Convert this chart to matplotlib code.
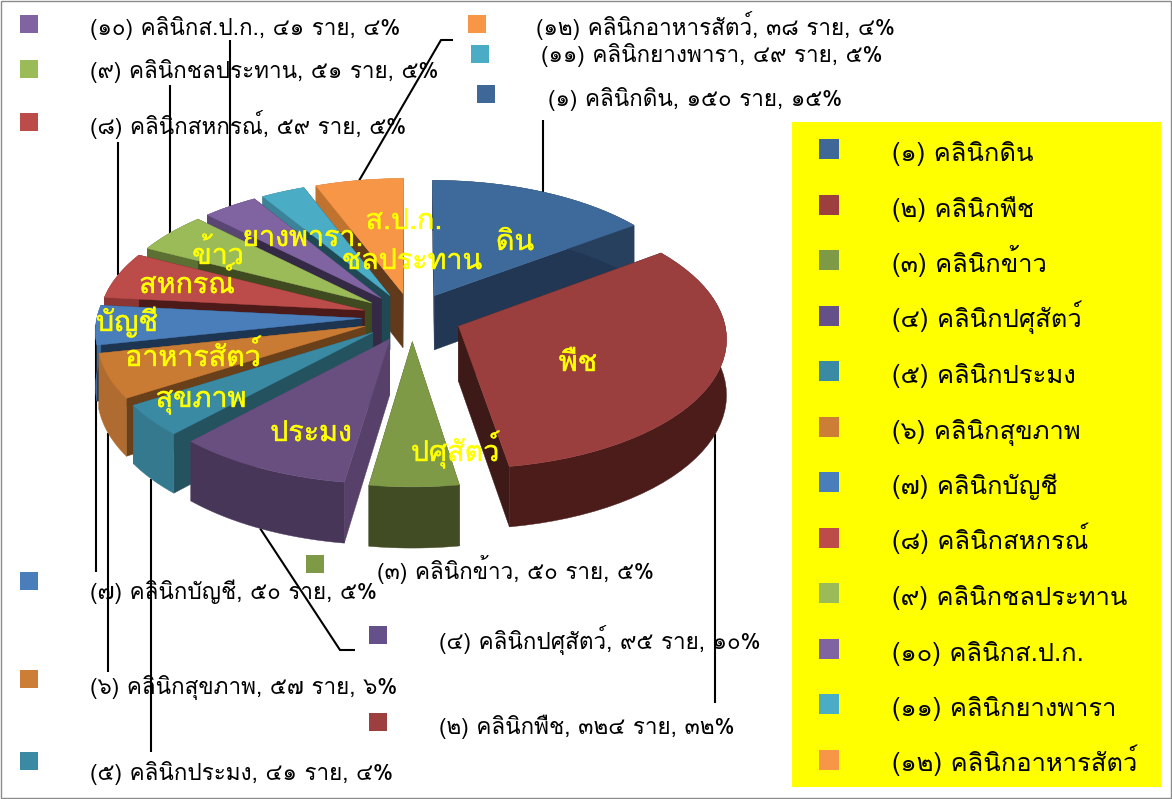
"""พายสามมิติแบบแยกชิ้น คลินิกเกษตร — วาดด้วย polygon จากค่าจริง"""
import numpy as np
import matplotlib

matplotlib.use("Agg")
import matplotlib.patheffects as pe
import matplotlib.pyplot as plt
from matplotlib.patches import Polygon, Rectangle

plt.rcParams["font.family"] = ["Loma", "DejaVu Sans"]

clinic_names = ["ดิน", "พืช", "ข้าว", "ปศุสัตว์", "ประมง", "สุขภาพ", "บัญชี",
                "สหกรณ์", "ชลประทาน", "ส.ป.ก.", "ยางพารา", "อาหารสัตว์"]
# ตัวเลขที่พิมพ์ในป้าย
counts = [150, 324, 50, 95, 41, 57, 50, 59, 51, 41, 49, 38]
percents = [15, 32, 5, 10, 4, 6, 5, 5, 5, 4, 5, 4]
# ขนาดชิ้นที่อ่านจากภาพ (บางชิ้นในภาพไม่ตรงกับป้าย เช่น 11, 12)
slice_values = [152, 331, 50, 99, 41, 57, 50, 59, 51, 38, 30, 60]
# ป้ายบนชิ้นพาย เรียงตามชิ้น
pie_labels = ["ดิน", "พืช", "ปศุสัตว์", "ประมง", "สุขภาพ", "อาหารสัตว์", "บัญชี",
              "สหกรณ์", "ข้าว", "ยางพารา.", "ชลประทาน", "ส.ป.ก."]

top_colors = ["#3d6a9b", "#9b3f3e", "#7f9a47", "#684f80", "#3a8aa3", "#c97b34",
              "#4a7ebb", "#bc4c4a", "#9bbb59", "#8064a2", "#4bacc6", "#f79646"]
outer_colors = ["#27405e", "#4b1c1a", "#414c24", "#483659", "#35798f", "#b06c30",
                "#3f6ca0", "#8c3533", "#5c7034", "#5a4672", "#3a8398", "#c0732f"]
radial_colors = ["#213754", "#3d1a17", "#404b22", "#574069", "#25525f", "#69401a",
                 "#1d3550", "#4d1a1a", "#3f4a20", "#352a45", "#1f4a55", "#603a1a"]
marker_colors = ["#3f6797", "#9c3f3e", "#7f9a47", "#66508a", "#3a8aa3", "#cc7d36",
                 "#4a7ebb", "#bc4c4a", "#9bbb59", "#8064a2", "#4bacc6", "#f79646"]

# ตำแหน่ง: มาร์กเกอร์ (x, y บน), ข้อความ (x, baseline), leader
callout_marker = [(477, 85), (369, 713), (306, 555), (369, 626), (20, 752), (20, 670),
                  (20, 572), (20, 113), (20, 60), (20, 15), (471, 45), (468, 15)]
callout_text = [(548, 106), (439, 734), (377, 579), (439, 649), (90, 780), (90, 694),
                (90, 599), (90, 134), (90, 78), (90, 35), (541, 62), (536, 35)]
pie_label_xy = [(515, 250), (578, 371), (455, 461), (311, 441), (201, 407), (193, 366),
                (127, 331), (187, 293), (218, 264), (303, 246), (412, 269), (404, 229)]

CX, CY = 412, 317
R, EXPLODE, SQUASH, PERSP, DEPTH = 265, 50, 0.485, 0.00032, 55
HEAVY_YELLOW = [pe.withStroke(linewidth=0.3, foreground="#ffff00")]


def thai(n):
    return str(n).translate(str.maketrans("0123456789", "๐๑๒๓๔๕๖๗๘๙"))


def project(x, y, z=0.0):
    f = 1 / (1 - PERSP * y)
    return CX + x * f, CY + SQUASH * y * f + z * f


def rim(theta, mid):
    """จุดบนขอบชิ้น (องศา ตามเข็มจากด้านบน) รวมระยะแยกชิ้น"""
    t, m = np.radians(theta), np.radians(mid)
    return EXPLODE * np.sin(m) + R * np.sin(t), -EXPLODE * np.cos(m) - R * np.cos(t)


fig = plt.figure(figsize=(11.72, 7.99), dpi=100)
ax = fig.add_axes((0, 0, 1, 1))
ax.set_xlim(0, 1172)
ax.set_ylim(799, 0)
ax.axis("off")

ax.add_patch(Rectangle((0.5, 0.5), 1170, 797, fill=False, edgecolor="#8c8c8c", lw=1, zorder=0))
ax.add_patch(Rectangle((792, 122), 369, 665, facecolor="#ffff00", edgecolor="none", zorder=1))

edges = np.cumsum([0] + slice_values) / sum(slice_values) * 360
mids = (edges[:-1] + edges[1:]) / 2

# ลำดับวาด: ชิ้นหลังก่อน
for i in sorted(range(12), key=lambda i: np.cos(np.radians(mids[i])), reverse=True):
    a, b, m = edges[i], edges[i + 1], mids[i]
    arc = [rim(t, m) for t in np.linspace(a, b, 40)]
    apex = (EXPLODE * np.sin(np.radians(m)), -EXPLODE * np.cos(np.radians(m)))
    for p in (arc[0], arc[-1]):
        wall = [project(*apex), project(*p), project(*p, DEPTH), project(*apex, DEPTH)]
        ax.add_patch(Polygon(wall, facecolor=radial_colors[i], edgecolor=radial_colors[i], lw=0.3, zorder=5))
    outer = [project(*p) for p in arc] + [project(*p, DEPTH) for p in arc[::-1]]
    ax.add_patch(Polygon(outer, facecolor=outer_colors[i], edgecolor=outer_colors[i], lw=0.3, zorder=5))
    top = [project(*apex)] + [project(*p) for p in arc]
    ax.add_patch(Polygon(top, facecolor=top_colors[i], edgecolor=top_colors[i], lw=0.3, zorder=5))

# เส้นโยง: จากกลางขอบชิ้นไปยังป้าย
elbows = {0: [(None, 120)], 1: [(None, 703)], 3: [(340, 650), (355, 650)], 4: [(None, 752)],
          5: [(None, 672)], 6: [(None, 572)], 7: [(None, 142)], 8: [(None, 85)], 9: [(None, 40)],
          11: [(441, 40), (453, 40)]}
front = {1, 3, 4, 5}
for i, pts in elbows.items():
    tip = project(*rim(mids[i], mids[i]), DEPTH if i in front else 0)
    xs = [tip[0]] + [tip[0] if p[0] is None else p[0] for p in pts]
    ys = [tip[1]] + [p[1] for p in pts]
    ax.plot(xs, ys, color="black", lw=1.5, zorder=3, solid_capstyle="butt")

for i, name in enumerate(clinic_names):
    n = thai(i + 1)
    # คำอธิบายสัญลักษณ์ด้านขวา
    row = 149 + i * 55.5
    ax.add_patch(Rectangle((819, row - 10), 20, 20, facecolor=marker_colors[i], edgecolor="none", zorder=2))
    ax.text(892, row + 12, f"({n}) คลินิก{name}", fontsize=18.4, color="black", va="baseline", zorder=6)
    # ป้ายรอบพาย
    mx, my = callout_marker[i]
    ax.add_patch(Rectangle((mx, my), 18, 18, facecolor=marker_colors[i], edgecolor="none", zorder=2))
    tx, ty = callout_text[i]
    ax.text(tx, ty, f"({n}) คลินิก{name}, {thai(counts[i])} ราย, {thai(percents[i])}%",
            fontsize=16.2, color="black", va="baseline", zorder=6)
    # ป้ายบนชิ้นพาย
    lx, ly = pie_label_xy[i]
    ax.text(lx, ly, pie_labels[i], fontsize=20.6, color="#ffff00", ha="center", va="baseline",
            zorder=7, path_effects=HEAVY_YELLOW)

fig.savefig("out.png", dpi=100)
